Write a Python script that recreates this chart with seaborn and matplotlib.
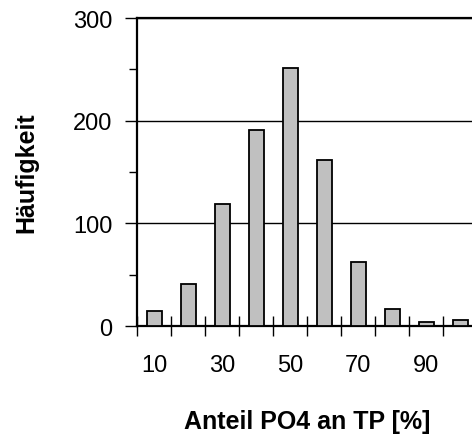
import numpy as np
import pandas as pd
import seaborn as sns
import matplotlib
matplotlib.use("Agg")
from matplotlib import pyplot as plt
from matplotlib.ticker import FixedLocator, NullFormatter, FixedFormatter

# Klassen (Anteil PO4 an TP in %) und Haeufigkeiten
klassen = ["10", "20", "30", "40", "50", "60", "70", "80", "90", "100"]
haeufigkeit = [15, 41, 119, 191, 251, 162, 62, 17, 4, 6]
beschriftung = ["10", "30", "50", "70", "90"]

sns.set_style("white")
plt.rcParams["font.family"] = ["Liberation Sans", "DejaVu Sans"]
plt.rcParams["text.color"] = "black"
plt.rcParams["axes.labelcolor"] = "black"
plt.rcParams["xtick.color"] = "black"
plt.rcParams["ytick.color"] = "black"

df = pd.DataFrame({"klasse": klassen, "n": haeufigkeit})

fig = plt.figure(figsize=(4.72, 4.39), dpi=100)
ax = fig.add_axes([0.291, 0.255, 0.72, 0.7016])

sns.barplot(data=df, x="klasse", y="n", order=klassen, color="#c0c0c0",
            edgecolor="black", linewidth=1.3, width=0.45, saturation=1,
            ax=ax, zorder=3)

ax.set_xlim(-0.5, 9.5)
ax.set_ylim(0, 300)

# gitterlinien
ax.set_yticks([0, 100, 200, 300])
ax.yaxis.set_minor_locator(FixedLocator([50, 150, 250]))
ax.grid(axis="y", which="major", color="black", linewidth=1.0, zorder=0)
ax.grid(axis="x", visible=False)

# x-achse: striche an den klassengrenzen, beschriftung unter jeder zweiten klasse
ax.xaxis.set_major_locator(FixedLocator(np.arange(-0.5, 10.0, 1.0)))
ax.xaxis.set_major_formatter(NullFormatter())
ax.xaxis.set_minor_locator(FixedLocator([0, 2, 4, 6, 8]))
ax.xaxis.set_minor_formatter(FixedFormatter(beschriftung))
ax.tick_params(axis="x", which="major", direction="inout", length=15,
               width=1.0, color="black", bottom=True)
ax.tick_params(axis="x", which="minor", length=0, pad=20, labelsize=17,
               bottom=True, labelcolor="black")
ax.tick_params(axis="y", which="major", direction="out", length=9, width=1.0,
               color="black", left=True, labelsize=17, pad=9,
               labelcolor="black")
ax.tick_params(axis="y", which="minor", direction="out", length=6, width=1.0,
               color="black", left=True)

for s in ["left", "top", "bottom"]:
    ax.spines[s].set_visible(True)
    ax.spines[s].set_color("black")
    ax.spines[s].set_linewidth(1.6)
ax.spines["right"].set_visible(False)
ax.spines["top"].set_zorder(5)

ax.set_xlabel("Anteil PO4 an TP [%]", fontsize=18, fontweight="bold",
              color="black")
ax.set_ylabel("Häufigkeit", fontsize=18, fontweight="bold", color="black")
ax.xaxis.set_label_coords(0.5, -0.27)
ax.yaxis.set_label_coords(-0.29, 0.5)

fig.savefig("out.png", dpi=100)
